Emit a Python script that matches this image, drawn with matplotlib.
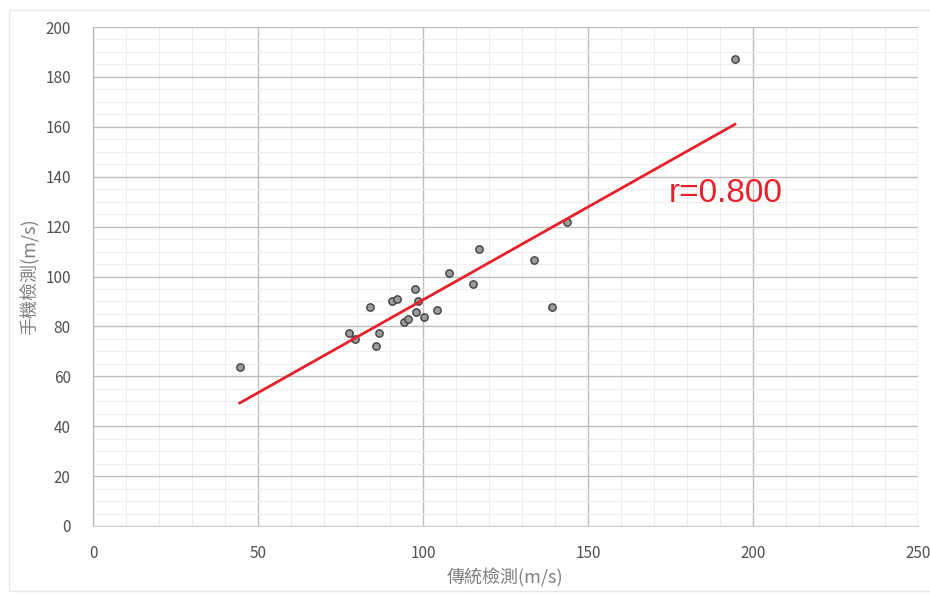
import numpy as np
import matplotlib
matplotlib.use("Agg")
import matplotlib.pyplot as plt
from matplotlib.ticker import MultipleLocator

# Data
traditional = [44.5, 77.7, 79.4, 83.9, 85.8, 86.8, 90.6, 92.0, 94.2, 95.4, 97.5,
               97.8, 98.4, 100.4, 104.1, 108.0, 115.0, 117.0, 133.6, 139.2, 143.6, 194.5]
phone = [63.7, 77.5, 74.9, 87.9, 72.1, 77.2, 90.2, 90.9, 81.8, 82.8, 95.0,
         85.9, 90.3, 83.6, 86.4, 101.3, 96.9, 111.0, 106.7, 87.9, 121.8, 187.2]
x_ticks = [0, 50, 100, 150, 200, 250]
y_ticks = [0, 20, 40, 60, 80, 100, 120, 140, 160, 180, 200]
x_label = "傳統檢測(m/s)"
y_label = "手機檢測(m/s)"
r_text = "r=0.800"

plt.rcParams['font.family'] = ['Noto Sans CJK TC', 'DejaVu Sans']

fig = plt.figure(figsize=(9.3, 5.94), dpi=100)
fig.patch.set_facecolor('white')
ax = fig.add_axes([93/930, 1-526/594, (918-93)/930, (526-27)/594])

xs = np.array(traditional)
ys = np.array(phone)

ax.set_xlim(0, 250)
ax.set_ylim(0, 200)
ax.xaxis.set_minor_locator(MultipleLocator(10))
ax.yaxis.set_minor_locator(MultipleLocator(5))
ax.set_xticks(x_ticks)
ax.set_yticks(y_ticks)

ax.grid(which='minor', color='#ededed', linewidth=0.8)
ax.grid(which='major', color='#bdbdbd', linewidth=1.0)
ax.set_axisbelow(True)

for s in ['top', 'right']:
    ax.spines[s].set_visible(False)
ax.spines['left'].set_color('#b0b0b0')
ax.spines['bottom'].set_color('#d0d0d0')

ax.tick_params(which='both', length=0)
ax.tick_params(axis='x', pad=14, labelsize=11, labelcolor='#505050')
ax.tick_params(axis='y', pad=16, labelsize=11, labelcolor='#505050')

ax.scatter(xs, ys, s=28, facecolor='#9a9a9a', edgecolor='#3f3f3f', linewidth=1.0, zorder=3)

slope, intercept = np.polyfit(xs, ys, 1)
lx = np.array([xs.min(), xs.max()])
ax.plot(lx, slope*lx + intercept, color='#e8202a', linewidth=2.0, zorder=4)

ax.text(174.5, 129.9, r_text, color='#e8202a', fontsize=24,
        family=['Liberation Sans', 'DejaVu Sans'], va='baseline', ha='left', zorder=5)

ax.set_xlabel(x_label, fontsize=13, color='#7f7f7f', labelpad=4)
ax.set_ylabel(y_label, fontsize=13, color='#7f7f7f', labelpad=4)

# light chart-area border
fig.add_artist(plt.Rectangle((9/930, 0.005), 1.0, 1-10/594-0.005, transform=fig.transFigure,
                             fill=False, edgecolor='#e6e6e6', linewidth=1.0))

fig.savefig('out.png', dpi=100, facecolor='white')
